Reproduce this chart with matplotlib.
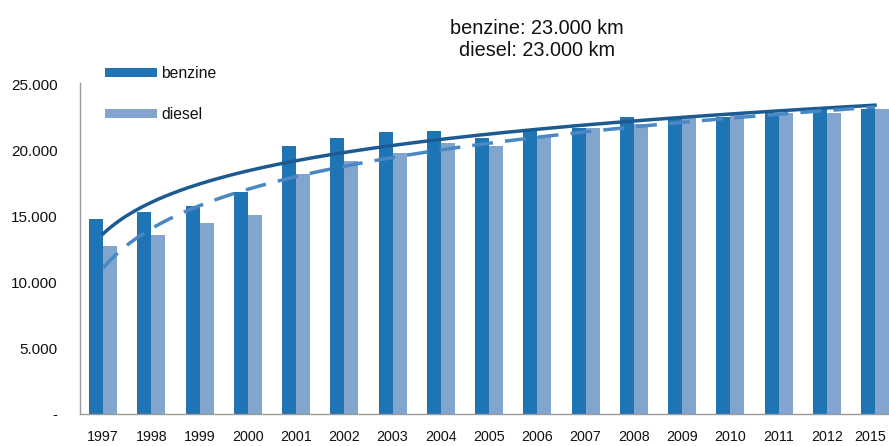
import numpy as np
import matplotlib
matplotlib.use("Agg")
import matplotlib.pyplot as plt
import matplotlib.transforms as mtransforms
from matplotlib.ticker import FuncFormatter

plt.rcParams['font.family'] = ['Liberation Sans', 'DejaVu Sans']

# Average annual mileage per car (km)
years = ['1997', '1998', '1999', '2000', '2001', '2002', '2003', '2004', '2005',
         '2006', '2007', '2008', '2009', '2010', '2011', '2012', '2015']
benzine = [14800, 15350, 15800, 16900, 20400, 21000, 21400, 21500, 21000,
           21500, 21700, 22600, 22500, 22600, 22900, 23200, 23200]
diesel = [12750, 13600, 14500, 15100, 18200, 19200, 19800, 20600, 20400,
          21100, 21700, 22000, 22500, 22700, 22900, 22900, 23200]
title_lines = ['benzine: 23.000 km', 'diesel: 23.000 km']

dark = '#1f74b4'
light = '#82a5cf'
trend_dark = '#1d5a92'
trend_light = '#4a88c4'
text_col = '#111111'

W, H = 889, 446
fig = plt.figure(figsize=(W / 100, H / 100), dpi=100)
ax = fig.add_axes([80 / W, 1 - 414 / H, 1 - 80 / W, 331 / H])

x = np.arange(len(years))
bw = 0.29
ax.bar(x - bw / 2, benzine, width=bw, color=dark, label='benzine', zorder=2)
ax.bar(x + bw / 2, diesel, width=bw, color=light, label='diesel', zorder=2)

# Logarithmic trend lines fitted to each series
xs = np.linspace(0, len(years) - 1, 200)
for vals, col, ls in [(benzine, trend_dark, '-'), (diesel, trend_light, '--')]:
    a, b = np.polyfit(np.log(x + 1), vals, 1)
    line, = ax.plot(xs, a * np.log(xs + 1) + b, color=col, lw=2.5, ls=ls, zorder=3)
    if ls == '--':
        line.set_dashes((6, 3.5))

ax.set_xlim(-0.48, 16.29)
ax.set_ylim(0, 25150)
ax.set_yticks([0, 5000, 10000, 15000, 20000, 25000])
ax.yaxis.set_major_formatter(FuncFormatter(
    lambda v, p: '-' if v == 0 else f'{int(v):,}'.replace(',', '.')))
ax.set_xticks(x)
ax.set_xticklabels(years)
ax.tick_params(axis='y', length=0, pad=16, labelsize=11, colors=text_col)
ax.tick_params(axis='x', length=0, pad=11.5, labelsize=10.3, colors=text_col)

# keep the last year label inside the right edge of the figure
last = ax.get_xticklabels()[-1]
last.set_transform(last.get_transform() +
                   mtransforms.ScaledTranslation(-4.5 / 100, 0, fig.dpi_scale_trans))

for s in ['top', 'right']:
    ax.spines[s].set_visible(False)
for s in ['left', 'bottom']:
    ax.spines[s].set_color('#9a9a9a')
    ax.spines[s].set_linewidth(1.0)

fig.text(537 / W, 1 - 39 / H, '\n'.join(title_lines), ha='center', va='center',
         fontsize=14.3, color=text_col, linespacing=1.2)

leg = fig.legend(loc='upper left', bbox_to_anchor=(105 / W, 1 - 66 / H),
                 frameon=False, fontsize=11.3, handlelength=3.3, handleheight=0.45,
                 labelspacing=1.65, handletextpad=0.3, borderaxespad=0, borderpad=0)
for t in leg.get_texts():
    t.set_color(text_col)

fig.savefig('out.png', dpi=100)
